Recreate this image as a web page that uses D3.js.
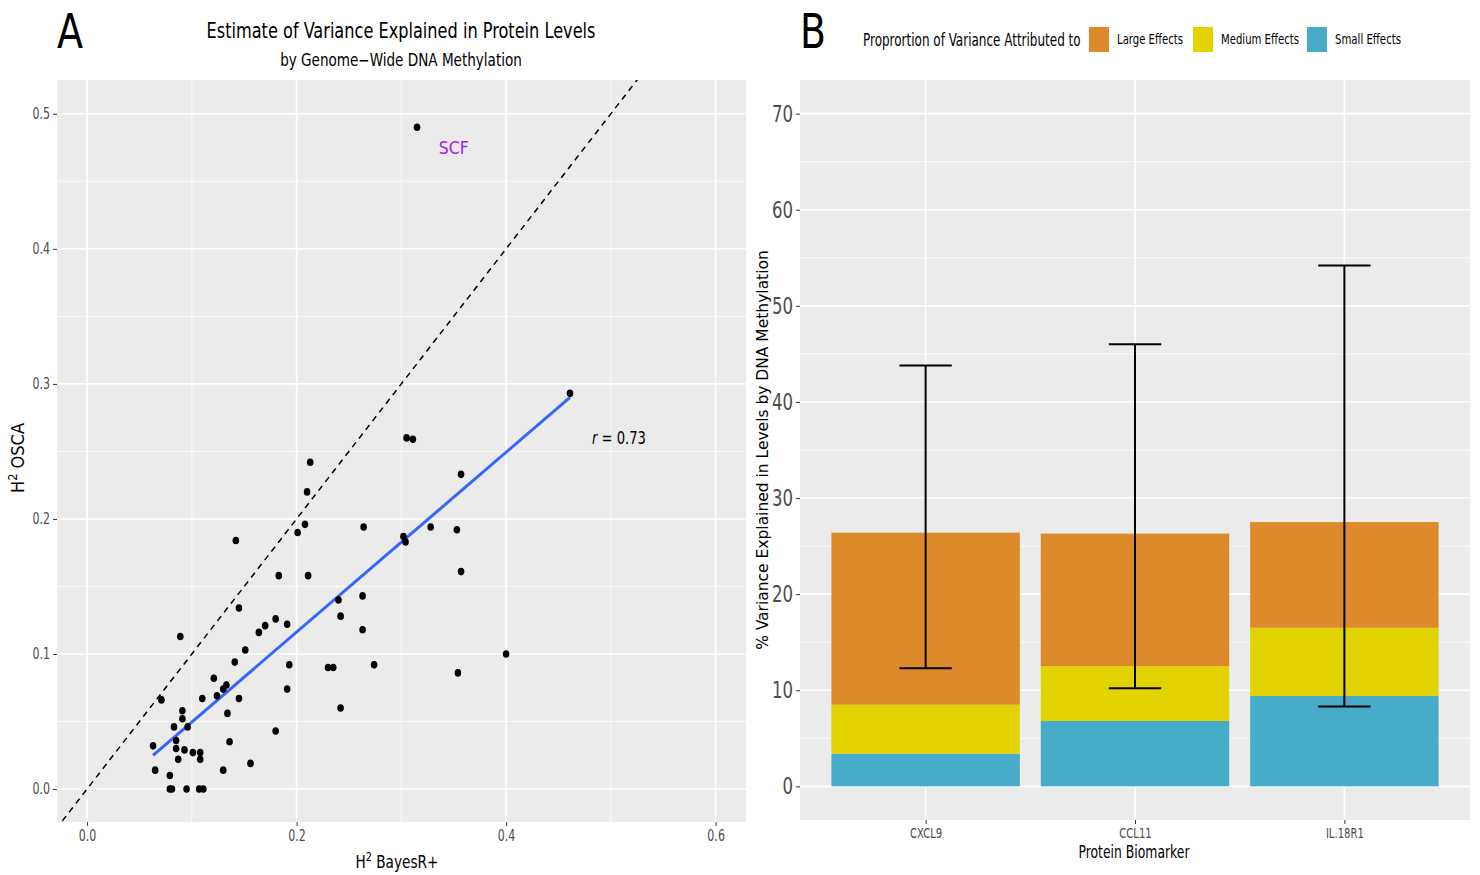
<!DOCTYPE html>
<html lang="en">
    <head>
        <meta charset="utf-8">
        <title>Variance Explained by DNA Methylation</title>
        <script src="https://d3js.org/d3.v7.min.js"></script>
        <style type="text/css">
            body { margin: 0; background: #fff; }
            text { font-family: "Liberation Sans Narrow", "Arial Narrow", "DejaVu Sans Condensed", "Liberation Sans", sans-serif; }
            .tick-lab { fill: #4d4d4d; }
        </style>
    </head>
    <body>
        <svg width="1480" height="875"></svg>
        <script type="text/javascript">

            // panel A: heritability estimates (BayesR+ on x, OSCA on y)
            const bayesR = [0.315, 0.461, 0.305, 0.311, 0.357, 0.213, 0.210, 0.208, 0.201, 0.264,
                            0.302, 0.304, 0.328, 0.353, 0.357, 0.183, 0.211, 0.142, 0.145, 0.180,
                            0.164, 0.170, 0.191, 0.240, 0.263, 0.242, 0.263, 0.151, 0.141, 0.193,
                            0.230, 0.235, 0.274, 0.354, 0.400, 0.191, 0.242, 0.121, 0.133, 0.130,
                            0.110, 0.124, 0.145, 0.071, 0.089, 0.091, 0.091, 0.134, 0.083, 0.096,
                            0.180, 0.063, 0.085, 0.085, 0.093, 0.101, 0.108, 0.108, 0.136, 0.087,
                            0.065, 0.079, 0.130, 0.156, 0.079, 0.081, 0.095, 0.107, 0.111];
            const osca   = [0.490, 0.293, 0.260, 0.259, 0.233, 0.242, 0.220, 0.196, 0.190, 0.194,
                            0.187, 0.183, 0.194, 0.192, 0.161, 0.158, 0.158, 0.184, 0.134, 0.126,
                            0.116, 0.121, 0.122, 0.140, 0.143, 0.128, 0.118, 0.103, 0.094, 0.092,
                            0.090, 0.090, 0.092, 0.086, 0.100, 0.074, 0.060, 0.082, 0.077, 0.074,
                            0.067, 0.069, 0.067, 0.066, 0.113, 0.058, 0.052, 0.056, 0.046, 0.046,
                            0.043, 0.032, 0.036, 0.030, 0.029, 0.027, 0.027, 0.022, 0.035, 0.022,
                            0.014, 0.010, 0.014, 0.019, 0.000, 0.000, 0.000, 0.000, 0.000];
            // fitted line
            const fitX = [0.063, 0.461];
            const fitY = [0.025, 0.290];
            const xTicksA = [0.0, 0.2, 0.4, 0.6];
            const yTicksA = [0.0, 0.1, 0.2, 0.3, 0.4, 0.5];

            // panel B: stacked proportions
            const proteins = ["CXCL9", "CCL11", "IL.18R1"];
            const smallEff = [3.4, 6.8, 9.4];
            const mediumEff = [5.1, 5.7, 7.1];
            const largeEff = [17.9, 13.8, 11.0];
            const ciLow = [12.3, 10.2, 8.3];
            const ciHigh = [43.8, 46.0, 54.2];
            const yTicksB = [0, 10, 20, 30, 40, 50, 60, 70];
            const effectNames = ["Large Effects", "Medium Effects", "Small Effects"];

            const svg = d3.select("svg");
            const grey = "#ebebeb";

            // no narrow font installed: squeeze text horizontally with a transform
            function scaleText(node, k) {
                const t = d3.select(node);
                const x = +t.attr("x") || 0, y = +t.attr("y") || 0;
                const prev = t.attr("transform") || "";
                t.attr("x", 0).attr("y", 0)
                 .attr("transform", `${prev} translate(${x},${y}) scale(${k},1)`);
            }
            function fit(sel, w) {
                sel.each(function() { scaleText(this, w / this.getComputedTextLength()); });
                return sel;
            }
            function squeeze(sel, k) {
                sel.each(function() { scaleText(this, k); });
            }

            // ---------------- panel A ----------------
            const pA = {left: 57, right: 746, top: 80, bottom: 822};
            const xA = d3.scaleLinear().domain([-0.0287, 0.629]).range([pA.left, pA.right]);
            const yA = d3.scaleLinear().domain([-0.0244, 0.525]).range([pA.bottom, pA.top]);

            svg.append("rect")
               .attr("x", pA.left).attr("y", pA.top)
               .attr("width", pA.right - pA.left).attr("height", pA.bottom - pA.top)
               .attr("fill", grey);

            svg.append("clipPath").attr("id", "clipA")
               .append("rect")
               .attr("x", pA.left).attr("y", pA.top)
               .attr("width", pA.right - pA.left).attr("height", pA.bottom - pA.top);

            const gA = svg.append("g");
            // minor grid
            gA.selectAll(".vminor").data([0.1, 0.3, 0.5]).enter().append("line")
              .attr("x1", d => xA(d)).attr("x2", d => xA(d))
              .attr("y1", pA.top).attr("y2", pA.bottom)
              .attr("stroke", "#fff").attr("stroke-width", 0.8);
            gA.selectAll(".hminor").data([0.05, 0.15, 0.25, 0.35, 0.45]).enter().append("line")
              .attr("y1", d => yA(d)).attr("y2", d => yA(d))
              .attr("x1", pA.left).attr("x2", pA.right)
              .attr("stroke", "#fff").attr("stroke-width", 0.8);
            // major grid
            gA.selectAll(".vmajor").data(xTicksA).enter().append("line")
              .attr("x1", d => xA(d)).attr("x2", d => xA(d))
              .attr("y1", pA.top).attr("y2", pA.bottom)
              .attr("stroke", "#fff").attr("stroke-width", 1.6);
            gA.selectAll(".hmajor").data(yTicksA).enter().append("line")
              .attr("y1", d => yA(d)).attr("y2", d => yA(d))
              .attr("x1", pA.left).attr("x2", pA.right)
              .attr("stroke", "#fff").attr("stroke-width", 1.6);

            // identity line
            gA.append("line")
              .attr("clip-path", "url(#clipA)")
              .attr("x1", xA(-0.03)).attr("y1", yA(-0.03))
              .attr("x2", xA(0.6)).attr("y2", yA(0.6))
              .attr("stroke", "#000").attr("stroke-width", 1.5)
              .attr("stroke-dasharray", "6,5");

            // regression line
            gA.append("line")
              .attr("x1", xA(fitX[0])).attr("y1", yA(fitY[0]))
              .attr("x2", xA(fitX[1])).attr("y2", yA(fitY[1]))
              .attr("stroke", "#3366ff").attr("stroke-width", 3);

            // points
            gA.selectAll("ellipse").data(d3.range(bayesR.length)).enter().append("ellipse")
              .attr("cx", i => xA(bayesR[i]))
              .attr("cy", i => yA(osca[i]))
              .attr("rx", 3.3).attr("ry", 3.8)
              .attr("fill", "#000");

            // axes
            const axAx = svg.append("g").attr("transform", `translate(0,${pA.bottom})`)
              .call(d3.axisBottom(xA).tickValues(xTicksA).tickFormat(d3.format(".1f")).tickSize(4).tickPadding(4));
            const axAy = svg.append("g").attr("transform", `translate(${pA.left},0)`)
              .call(d3.axisLeft(yA).tickValues(yTicksA).tickFormat(d3.format(".1f")).tickSize(4).tickPadding(3));
            [axAx, axAy].forEach(a => {
                a.select(".domain").remove();
                a.selectAll(".tick line").attr("stroke", "#333");
                a.selectAll(".tick text").attr("class", "tick-lab").attr("font-size", 15);
                squeeze(a.selectAll(".tick text"), 0.82);
            });

            fit(svg.append("text").attr("x", 70).attr("y", 48).attr("text-anchor", "middle")
               .attr("font-size", 48).text("A"), 26);
            fit(svg.append("text").attr("x", 401).attr("y", 38).attr("text-anchor", "middle")
               .attr("font-size", 22).text("Estimate of Variance Explained in Protein Levels"), 389);
            fit(svg.append("text").attr("x", 401).attr("y", 66).attr("text-anchor", "middle")
               .attr("font-size", 17).text("by Genome\u2212Wide DNA Methylation"), 242);

            const xt = svg.append("text").attr("x", 397).attr("y", 868).attr("text-anchor", "middle")
               .attr("font-size", 17);
            xt.append("tspan").text("H");
            xt.append("tspan").attr("dy", -7).attr("font-size", 12).text("2");
            xt.append("tspan").attr("dy", 7).text(" BayesR+");
            fit(xt, 83);

            const yt = svg.append("text").attr("transform", "translate(24,458) rotate(-90)")
               .attr("text-anchor", "middle").attr("font-size", 17);
            yt.append("tspan").text("H");
            yt.append("tspan").attr("dy", -7).attr("font-size", 12).text("2");
            yt.append("tspan").attr("dy", 7).text(" OSCA");
            fit(yt, 70);

            fit(svg.append("text").attr("x", xA(0.350)).attr("y", yA(0.470)).attr("text-anchor", "middle")
               .attr("font-size", 17).attr("fill", "#a020f0").text("SCF"), 30);

            const rt = svg.append("text").attr("x", 592).attr("y", 444).attr("font-size", 17);
            rt.append("tspan").attr("font-style", "italic").text("r");
            rt.append("tspan").text(" = 0.73");
            fit(rt, 54);

            // ---------------- panel B ----------------
            const pB = {left: 800, right: 1470, top: 80, bottom: 820};
            const xB = d3.scalePoint().domain(proteins).range([pB.left, pB.right]).padding(0.6);
            const yB = d3.scaleLinear().domain([-3.5, 73.5]).range([pB.bottom, pB.top]);
            const barW = xB.step() * 0.9;
            const capW = xB.step() * 0.25;

            svg.append("rect")
               .attr("x", pB.left).attr("y", pB.top)
               .attr("width", pB.right - pB.left).attr("height", pB.bottom - pB.top)
               .attr("fill", grey);

            const gB = svg.append("g");
            gB.selectAll(".hminor").data([5, 15, 25, 35, 45, 55, 65]).enter().append("line")
              .attr("y1", d => yB(d)).attr("y2", d => yB(d))
              .attr("x1", pB.left).attr("x2", pB.right)
              .attr("stroke", "#fff").attr("stroke-width", 0.8);
            gB.selectAll(".hmajor").data(yTicksB).enter().append("line")
              .attr("y1", d => yB(d)).attr("y2", d => yB(d))
              .attr("x1", pB.left).attr("x2", pB.right)
              .attr("stroke", "#fff").attr("stroke-width", 1.6);
            gB.selectAll(".vmajor").data(proteins).enter().append("line")
              .attr("x1", d => xB(d)).attr("x2", d => xB(d))
              .attr("y1", pB.top).attr("y2", pB.bottom)
              .attr("stroke", "#fff").attr("stroke-width", 1.6);

            const tableB = proteins.map((p, i) => ({protein: p, small: smallEff[i], medium: mediumEff[i], large: largeEff[i]}));
            const stack = d3.stack().keys(["small", "medium", "large"]);
            const series = stack(tableB);
            const fillB = d3.scaleOrdinal()
                            .domain(["large", "medium", "small"])
                            .range(["#dd8b2a", "#e1d200", "#47abca"]);

            const groups = gB.selectAll(".series").data(series).enter().append("g")
                             .attr("fill", d => fillB(d.key));
            groups.selectAll("rect").data(d => d).enter().append("rect")
                  .attr("x", d => xB(d.data.protein) - barW / 2)
                  .attr("y", d => yB(d[1]))
                  .attr("height", d => yB(d[0]) - yB(d[1]))
                  .attr("width", barW);

            // error bars
            const eb = gB.selectAll(".eb").data(proteins).enter().append("g");
            eb.append("line")
              .attr("x1", d => xB(d)).attr("x2", d => xB(d))
              .attr("y1", (d, i) => yB(ciLow[i])).attr("y2", (d, i) => yB(ciHigh[i]))
              .attr("stroke", "#000").attr("stroke-width", 2);
            eb.append("line")
              .attr("x1", d => xB(d) - capW / 2).attr("x2", d => xB(d) + capW / 2)
              .attr("y1", (d, i) => yB(ciLow[i])).attr("y2", (d, i) => yB(ciLow[i]))
              .attr("stroke", "#000").attr("stroke-width", 2);
            eb.append("line")
              .attr("x1", d => xB(d) - capW / 2).attr("x2", d => xB(d) + capW / 2)
              .attr("y1", (d, i) => yB(ciHigh[i])).attr("y2", (d, i) => yB(ciHigh[i]))
              .attr("stroke", "#000").attr("stroke-width", 2);

            const axBx = svg.append("g").attr("transform", `translate(0,${pB.bottom})`)
              .call(d3.axisBottom(xB).tickSize(4).tickPadding(4));
            const axBy = svg.append("g").attr("transform", `translate(${pB.left},0)`)
              .call(d3.axisLeft(yB).tickValues(yTicksB).tickSize(4).tickPadding(3));
            axBx.selectAll(".tick text").attr("font-size", 14);
            axBy.selectAll(".tick text").attr("font-size", 23);
            [axBx, axBy].forEach(a => {
                a.select(".domain").remove();
                a.selectAll(".tick line").attr("stroke", "#333");
                a.selectAll(".tick text").attr("class", "tick-lab");
                squeeze(a.selectAll(".tick text"), 0.8);
            });

            fit(svg.append("text").attr("x", 813).attr("y", 48).attr("text-anchor", "middle")
               .attr("font-size", 48).text("B"), 26);

            fit(svg.append("text").attr("x", 1134).attr("y", 858).attr("text-anchor", "middle")
               .attr("font-size", 17).text("Protein Biomarker"), 111);
            fit(svg.append("text").attr("transform", "translate(768,450) rotate(-90)")
               .attr("text-anchor", "middle").attr("font-size", 15)
               .text("% Variance Explained in Levels by DNA Methylation"), 400);

            // legend
            fit(svg.append("text").attr("x", 863).attr("y", 46).attr("font-size", 17)
               .text("Proprortion of Variance Attributed to"), 218);
            const legX = [1089, 1193, 1307];
            const legW = [66, 78, 66];
            const legKeys = ["large", "medium", "small"];
            const leg = svg.selectAll(".leg").data(effectNames).enter().append("g")
                           .attr("transform", (d, i) => `translate(${legX[i]},27)`);
            leg.append("rect").attr("width", 20).attr("height", 25)
               .attr("fill", (d, i) => fillB(legKeys[i]));
            leg.append("text").attr("x", 28).attr("y", 17).attr("font-size", 14).text(d => d)
               .each(function(d, i) { fit(d3.select(this), legW[i]); });

        </script>
    </body>
</html>
